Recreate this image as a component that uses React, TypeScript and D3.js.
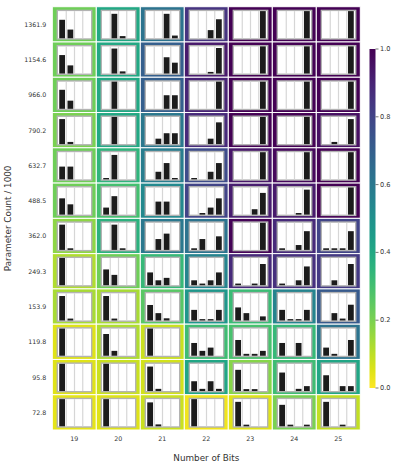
import React from "react";
import * as d3 from "d3";

const bits = [19, 20, 21, 22, 23, 24, 25];
const paramCounts = ["1361.9", "1154.6", "966.0", "790.2", "632.7", "488.5", "362.0", "249.3", "153.9", "119.8", "95.8", "72.8"];
const colorTicks = [0, 0.2, 0.4, 0.6, 0.8, 1.0];

// background value of each cell (0..1), rows top to bottom
const shade = [
  [0.22, 0.4, 0.62, 0.85, 1, 1, 1],
  [0.22, 0.4, 0.7, 0.93, 1, 1, 1],
  [0.22, 0.4, 0.7, 0.9, 1, 1, 1],
  [0.2, 0.4, 0.6, 0.88, 1, 1, 0.96],
  [0.22, 0.35, 0.58, 0.77, 0.94, 0.98, 1],
  [0.22, 0.3, 0.53, 0.8, 0.92, 0.93, 1],
  [0.17, 0.36, 0.6, 0.62, 0.99, 0.88, 0.8],
  [0.12, 0.22, 0.33, 0.55, 0.88, 0.86, 0.83],
  [0.13, 0.13, 0.26, 0.47, 0.32, 0.55, 0.72],
  [0.05, 0.12, 0.08, 0.31, 0.29, 0.33, 0.62],
  [0.05, 0.08, 0.07, 0.41, 0.18, 0.31, 0.41],
  [0.04, 0.05, 0.08, 0.02, 0.05, 0.2, 0.09],
];

// 4-bar distributions per cell, one array per row
const bars1361_9 = [[0.68, 0.32, 0, 0], [0, 0.9, 0.08, 0], [0, 0, 0.9, 0.1], [0, 0, 0.3, 0.7], [0, 0, 0, 1], [0, 0, 0, 1], [0, 0, 0, 1]];
const bars1154_6 = [[0.68, 0.3, 0, 0], [0, 0.92, 0.08, 0], [0, 0, 0.6, 0.4], [0, 0, 0.06, 0.94], [0, 0, 0, 1], [0, 0, 0, 1], [0, 0, 0, 1]];
const bars966_0 = [[0.7, 0.3, 0, 0], [0, 1, 0, 0], [0, 0, 0.5, 0.5], [0, 0, 0, 1], [0, 0, 0, 1], [0, 0, 0, 1], [0, 0, 0, 1]];
const bars790_2 = [[0.92, 0.08, 0, 0], [0, 1, 0, 0], [0, 0.2, 0.4, 0.4], [0, 0, 0.2, 0.8], [0, 0, 0, 1], [0, 0, 0, 1], [0, 0.08, 0, 0.92]];
const bars632_7 = [[0.47, 0.47, 0, 0], [0.05, 0.9, 0, 0], [0, 0.28, 0.6, 0.05], [0.05, 0, 0.28, 0.6], [0, 0, 0, 1], [0, 0, 0, 1], [0, 0, 0, 1]];
const bars488_5 = [[0.6, 0.38, 0, 0], [0.26, 0.68, 0, 0], [0, 0.48, 0.48, 0], [0, 0.06, 0.26, 0.6], [0, 0, 0.2, 0.8], [0, 0, 0.06, 0.92], [0, 0, 0, 1]];
const bars362_0 = [[0.93, 0.06, 0, 0], [0, 0.93, 0.06, 0], [0, 0.4, 0.6, 0], [0.06, 0.4, 0, 0.5], [0, 0, 0, 1], [0.06, 0, 0.18, 0.69], [0.06, 0.06, 0.06, 0.69]];
const bars249_3 = [[1, 0, 0, 0], [0.58, 0.38, 0, 0], [0.47, 0.18, 0.27, 0], [0.18, 0.06, 0.18, 0.47], [0.06, 0, 0.06, 0.78], [0.06, 0, 0.18, 0.69], [0, 0.18, 0, 0.78]];
const bars153_9 = [[0.9, 0.07, 0, 0], [0.9, 0.07, 0, 0], [0.57, 0.27, 0.08, 0], [0.39, 0.05, 0.05, 0.39], [0.48, 0.27, 0, 0.15], [0.39, 0.05, 0.05, 0.39], [0, 0.27, 0.07, 0.58]];
const bars119_8 = [[1, 0, 0, 0], [0.8, 0.18, 0, 0], [1, 0, 0, 0], [0.47, 0.18, 0.3, 0], [0.58, 0.07, 0.07, 0.18], [0.47, 0, 0.47, 0], [0.3, 0.07, 0, 0.58]];
const bars95_8 = [[1, 0, 0, 0], [1, 0, 0, 0], [0.9, 0.08, 0, 0], [0.36, 0.08, 0.36, 0.08], [0.78, 0.07, 0.07, 0], [0.68, 0, 0.08, 0.18], [0.58, 0, 0.18, 0.18]];
const bars72_8 = [[1, 0, 0, 0], [1, 0, 0, 0], [0.88, 0.07, 0, 0], [1, 0, 0, 0], [0.9, 0.06, 0, 0], [0.79, 0.06, 0, 0.06], [0.9, 0, 0.06, 0]];

const barRows = [bars1361_9, bars1154_6, bars966_0, bars790_2, bars632_7, bars488_5, bars362_0, bars249_3, bars153_9, bars119_8, bars95_8, bars72_8];

const W = 399;
const H = 466;
const font = "DejaVu Sans, sans-serif";
const textColor = "#333";

const color = (v) => d3.interpolateViridis(1 - v);

const App = () => {
  const x = d3.scaleBand().domain(bits.map(String)).range([52.3, 360.3]);
  const y = d3.scaleBand().domain(paramCounts).range([6.7, 430]);

  // the little inset plot inside each cell
  const boxLeft = 5, boxRight = 4.6, boxTop = 3.7, boxBottom = 3.0, boxStroke = 1.4;
  const boxW = x.bandwidth() - boxLeft - boxRight;
  const boxH = y.bandwidth() - boxTop - boxBottom;
  const innerW = boxW - boxStroke;
  const innerH = boxH - boxStroke;
  const slot = d3.scaleBand().domain(["0", "1", "2", "3"]).range([0, innerW]).paddingInner(0.3).paddingOuter(0.15);
  const barY = d3.scaleLinear().domain([0, 1]).range([innerH, 0]);
  const step = innerW / 4;

  const cb = d3.scaleLinear().domain([0, 1]).range([388, 49]);
  const cbX = 369.5, cbW = 6;
  const gradStops = d3.range(0, 1.0001, 0.05);

  return (
    <svg width={W} height={H} style={{ position: "absolute", left: 0, top: 0, background: "#fff" }}>
      <defs>
        <linearGradient id="cbgrad" x1="0" y1="1" x2="0" y2="0">
          {gradStops.map((s) => (
            <stop key={s} offset={s} stopColor={color(s)} />
          ))}
        </linearGradient>
      </defs>

      {barRows.map((row, ri) =>
        row.map((vals, ci) => {
          const cx = x(String(bits[ci]));
          const cy = y(paramCounts[ri]);
          const bx = cx + boxLeft;
          const by = cy + boxTop;
          const ix = bx + boxStroke / 2;
          const iy = by + boxStroke / 2;
          return (
            <g key={ri + "-" + ci}>
              <rect x={cx} y={cy} width={x.bandwidth()} height={y.bandwidth()} fill={color(shade[ri][ci])} stroke="#fff" strokeWidth={1} />
              <rect x={bx} y={by} width={boxW} height={boxH} fill="#fff" stroke="#b3b3b3" strokeWidth={boxStroke} />
              {[1, 2, 3].map((k) => (
                <line key={k} x1={ix + k * step} x2={ix + k * step} y1={iy} y2={iy + innerH} stroke="#d6d6d6" strokeWidth={1.2} />
              ))}
              {vals.map((v, k) =>
                v > 0 ? (
                  <rect key={k} x={ix + slot(String(k))} y={iy + barY(v)} width={slot.bandwidth()} height={innerH - barY(v)} fill="#1c1c1c" />
                ) : null
              )}
            </g>
          );
        })
      )}

      {paramCounts.map((p) => (
        <text key={p} x={46.3} y={y(p) + y.bandwidth() / 2} textAnchor="end" dominantBaseline="central" fontFamily={font} fontSize={6.3} fill={textColor}>
          {p}
        </text>
      ))}
      {bits.map((b) => (
        <text key={b} x={x(String(b)) + x.bandwidth() / 2} y={441.2} textAnchor="middle" fontFamily={font} fontSize={6.3} fill={textColor}>
          {b}
        </text>
      ))}

      <text x={206.3} y={460.5} textAnchor="middle" fontFamily={font} fontSize={8.8} fill={textColor}>
        Number of Bits
      </text>
      <text transform={`translate(10.5,218.4) rotate(-90)`} textAnchor="middle" fontFamily={font} fontSize={8.8} fill={textColor}>
        Parameter Count / 1000
      </text>

      <rect x={cbX} y={cb(1)} width={cbW} height={cb(0) - cb(1)} fill="url(#cbgrad)" />
      {colorTicks.map((t) => (
        <g key={t}>
          <line x1={cbX + cbW} x2={cbX + cbW + 3} y1={cb(t)} y2={cb(t)} stroke="#555" strokeWidth={0.8} />
          <text x={cbX + cbW + 4.5} y={cb(t)} dominantBaseline="central" fontFamily={font} fontSize={6.6} fill={textColor}>
            {t.toFixed(1)}
          </text>
        </g>
      ))}
    </svg>
  );
};

export default App;
